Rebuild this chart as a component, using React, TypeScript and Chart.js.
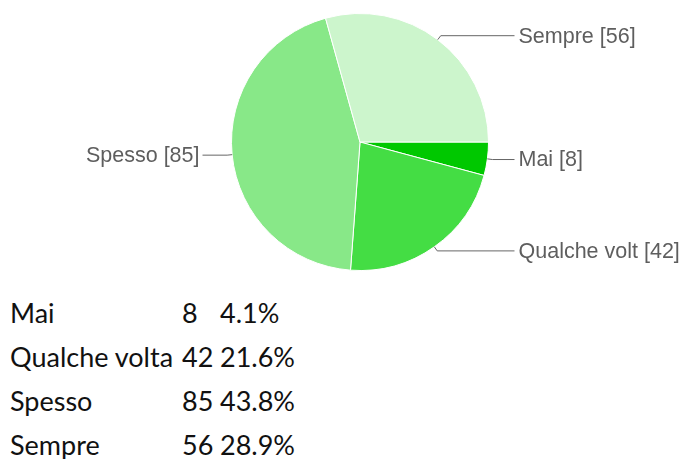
import React, { useEffect, useRef } from "react";
import { Chart, registerables } from "chart.js";

Chart.register(...registerables);

const categories = ["Mai", "Qualche volta", "Spesso", "Sempre"];
const pieLabels = ["Mai [8]", "Qualche volt [42]", "Spesso [85]", "Sempre [56]"];
const counts = [8, 42, 85, 56];
const percents = ["4.1%", "21.6%", "43.8%", "28.9%"];
const colors = ["#00C800", "#44DD44", "#88E888", "#CCF5CC"];

const leaderLabels = {
  id: "leaderLabels",
  afterDatasetsDraw(chart: any) {
    const meta = chart.getDatasetMeta(0);
    const ctx = chart.ctx;
    ctx.save();
    ctx.font = "21.5px 'Liberation Sans', Arial, sans-serif";
    ctx.fillStyle = "#5e5e5e";
    ctx.strokeStyle = "#666666";
    ctx.lineWidth = 1;
    ctx.textBaseline = "middle";
    meta.data.forEach((arc: any, i: number) => {
      const { x, y, startAngle, endAngle, outerRadius } = arc.getProps(
        ["x", "y", "startAngle", "endAngle", "outerRadius"],
        true
      );
      const mid = (startAngle + endAngle) / 2;
      const ax = x + Math.cos(mid) * outerRadius;
      const ay = y + Math.sin(mid) * outerRadius;
      const ex = x + Math.cos(mid) * (outerRadius + 5);
      const ey = y + Math.sin(mid) * (outerRadius + 5);
      const right = Math.cos(mid) >= 0;
      const lineEnd = right ? x + outerRadius + 26 : x - outerRadius - 29;
      const textX = right ? x + outerRadius + 30 : x - outerRadius - 32;
      ctx.beginPath();
      ctx.moveTo(ax, ay);
      ctx.lineTo(ex, ey);
      ctx.lineTo(lineEnd, ey);
      ctx.stroke();
      ctx.textAlign = right ? "left" : "right";
      ctx.fillText(pieLabels[i], textX, ey + 1);
    });
    ctx.restore();
  },
};

export default function App() {
  const ref = useRef<HTMLCanvasElement | null>(null);
  useEffect(() => {
    if (!ref.current) return;
    const chart = new Chart(ref.current, {
      type: "pie",
      data: {
        labels: categories,
        datasets: [
          {
            data: counts,
            backgroundColor: colors,
            borderColor: "#ffffff",
            borderWidth: 1,
          },
        ],
      },
      options: {
        animation: false,
        responsive: true,
        maintainAspectRatio: false,
        rotation: 90,
        layout: { padding: { left: 231, right: 199, top: 13, bottom: 19 } },
        plugins: {
          legend: { display: false },
          tooltip: { enabled: false },
        },
      },
      plugins: [leaderLabels],
    });
    return () => chart.destroy();
  }, []);

  const rowStyle: React.CSSProperties = {
    display: "flex",
    height: 44,
    lineHeight: "44px",
    whiteSpace: "nowrap",
  };

  return (
    <div
      style={{
        position: "absolute",
        left: 0,
        top: 0,
        width: 688,
        height: 459,
        background: "#ffffff",
        overflow: "hidden",
      }}
    >
      <div style={{ position: "absolute", left: 0, top: 0, width: 688, height: 290 }}>
        <canvas ref={ref} />
      </div>
      <div
        style={{
          position: "absolute",
          left: 10,
          top: 291,
          fontFamily: "Lato, 'Open Sans', sans-serif",
          fontSize: 27,
          color: "#111111",
        }}
      >
        {categories.map((c, i) => (
          <div key={c} style={rowStyle}>
            <span style={{ width: 172, display: "inline-block" }}>{c}</span>
            <span style={{ width: 38, display: "inline-block" }}>{counts[i]}</span>
            <span>{percents[i]}</span>
          </div>
        ))}
      </div>
    </div>
  );
}
